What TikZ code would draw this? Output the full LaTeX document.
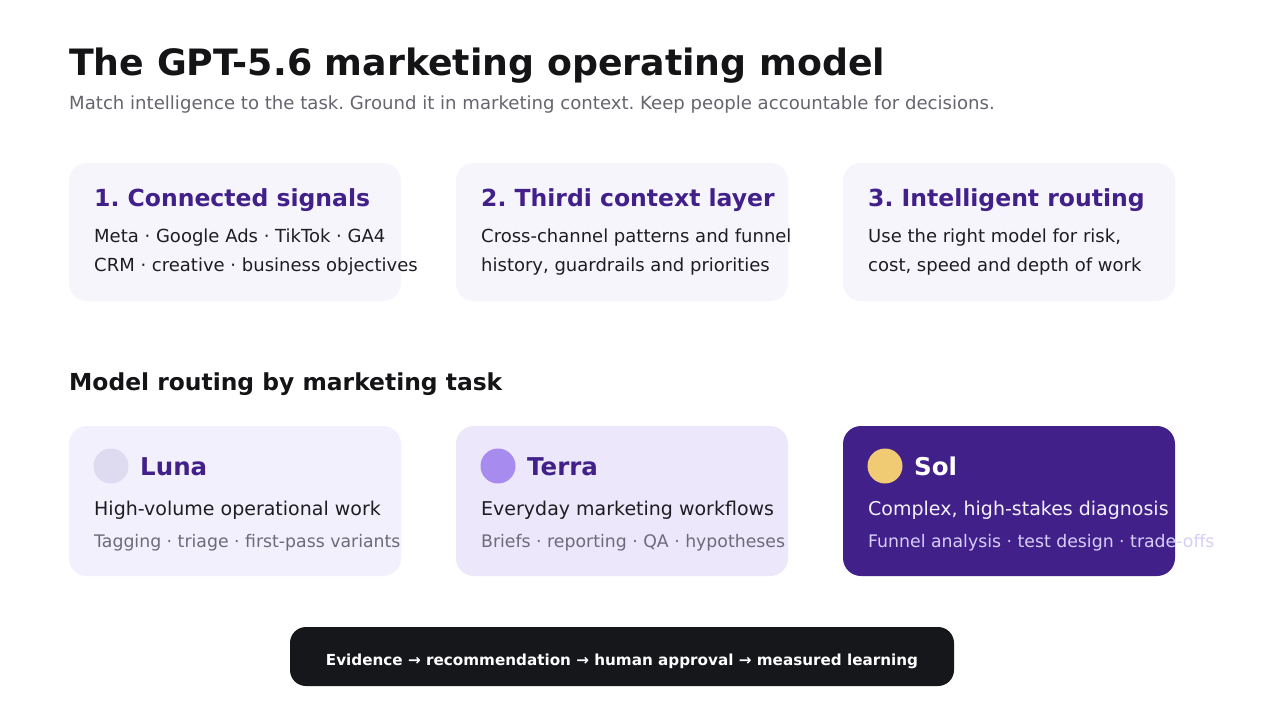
\documentclass[tikz,border=0pt]{standalone}
\usepackage{fontspec}
\setmainfont{DejaVu Sans}
\frenchspacing
\usetikzlibrary{positioning}
\definecolor{ink}{HTML}{141416}
\definecolor{muted}{HTML}{66646E}
\definecolor{purple}{HTML}{42208A}
\definecolor{cardfill}{HTML}{F6F5FC}
\definecolor{lunafill}{HTML}{F3F0FE}
\definecolor{terrafill}{HTML}{ECE7FB}
\definecolor{lunadot}{HTML}{DEDAF0}
\definecolor{terradot}{HTML}{A78BEE}
\definecolor{soldot}{HTML}{F0CB73}
\definecolor{body}{HTML}{1D1D22}
\definecolor{small}{HTML}{6E6A78}
\definecolor{solsmall}{HTML}{D7CEFA}
\definecolor{solbody}{HTML}{F4F1FF}
\definecolor{bar}{HTML}{16171B}
\tikzset{
  txt/.style={anchor=base west, inner sep=0pt},
  heading/.style={txt, font=\fontsize{36.3}{40}\selectfont\bfseries, text=ink},
  subhead/.style={txt, font=\fontsize{18.1}{21}\selectfont, text=muted},
  section/.style={txt, font=\fontsize{23.4}{27}\selectfont\bfseries, text=ink},
  card/.style={rounded corners=18pt, fill=cardfill, minimum width=332pt, minimum height=138pt, inner sep=0pt},
  tier/.style={card, minimum height=150pt},
  cardtitle/.style={txt, font=\fontsize{23.5}{27}\selectfont\bfseries, text=purple},
  cardtext/.style={txt, font=\fontsize{18}{22}\selectfont, text=body},
  dot/.style={circle, minimum size=35pt, inner sep=0pt},
  tiername/.style={txt, font=\fontsize{24.5}{28}\selectfont\bfseries, text=purple},
  tiertext/.style={txt, font=\fontsize{19}{23}\selectfont, text=body},
  tiersmall/.style={txt, font=\fontsize{17.3}{20}\selectfont, text=small},
  footer/.style={rounded corners=16pt, fill=bar, minimum width=664pt, minimum height=59pt, inner sep=0pt}
}
\begin{document}
\begin{tikzpicture}[x=1pt, y=-1pt]
\useasboundingbox[fill=white] (0,0) rectangle (1276,706);
\node[heading] (title) at (69,76) {The GPT-5.6 marketing operating model};
\node[subhead] (subtitle) at (69,110) {Match intelligence to the task. Ground it in marketing context. Keep people accountable for decisions.};
% three steps
\node[card] (signals) at (235,232) {};
\node[cardtitle] (signalsT) at (94,206) {1. Connected signals};
\node[cardtext] (signalsA) at (94,242) {Meta · Google Ads · TikTok · GA4};
\node[cardtext] (signalsB) at (94,271) {CRM · creative · business objectives};
\node[card] (context) at (622,232) {};
\node[cardtitle] (contextT) at (481,206) {2. Thirdi context layer};
\node[cardtext] (contextA) at (481,242) {Cross-channel patterns and funnel};
\node[cardtext] (contextB) at (481,271) {history, guardrails and priorities};
\node[card] (routing) at (1009,232) {};
\node[cardtitle] (routingT) at (868,206) {3. Intelligent routing};
\node[cardtext] (routingA) at (868,242) {Use the right model for risk,};
\node[cardtext] (routingB) at (868,271) {cost, speed and depth of work};
\node[section] (tasks) at (69,390) {Model routing by marketing task};
% model tiers
\node[tier, fill=lunafill] (luna) at (235,501) {};
\node[dot, fill=lunadot] (lunaDot) at (111,466) {};
\node[tiername] (lunaN) at (140,475) {Luna};
\node[tiertext] (lunaA) at (94,515) {High-volume operational work};
\node[tiersmall] (lunaB) at (94,547) {Tagging · triage · first-pass variants};
\node[tier, fill=terrafill] (terra) at (622,501) {};
\node[dot, fill=terradot] (terraDot) at (498,466) {};
\node[tiername] (terraN) at (527,475) {Terra};
\node[tiertext] (terraA) at (481,515) {Everyday marketing workflows};
\node[tiersmall] (terraB) at (481,547) {Briefs · reporting · QA · hypotheses};
\node[tier, fill=purple] (sol) at (1009,501) {};
\node[dot, fill=soldot] (solDot) at (885,466) {};
\node[tiername, text=white] (solN) at (914,475) {Sol};
\node[tiertext, text=solbody] (solA) at (868,515) {Complex, high-stakes diagnosis};
\node[tiersmall, text=solsmall] (solB) at (868,547) {Funnel analysis · test design · trade-offs};
% loop
\node[footer] (loop) at (622,656.5) {};
\node[anchor=base, inner sep=0pt, font=\fontsize{15.2}{18}\selectfont\bfseries, text=white] (loopT) at (622,665) {Evidence → recommendation → human approval → measured learning};
\end{tikzpicture}
\end{document}
